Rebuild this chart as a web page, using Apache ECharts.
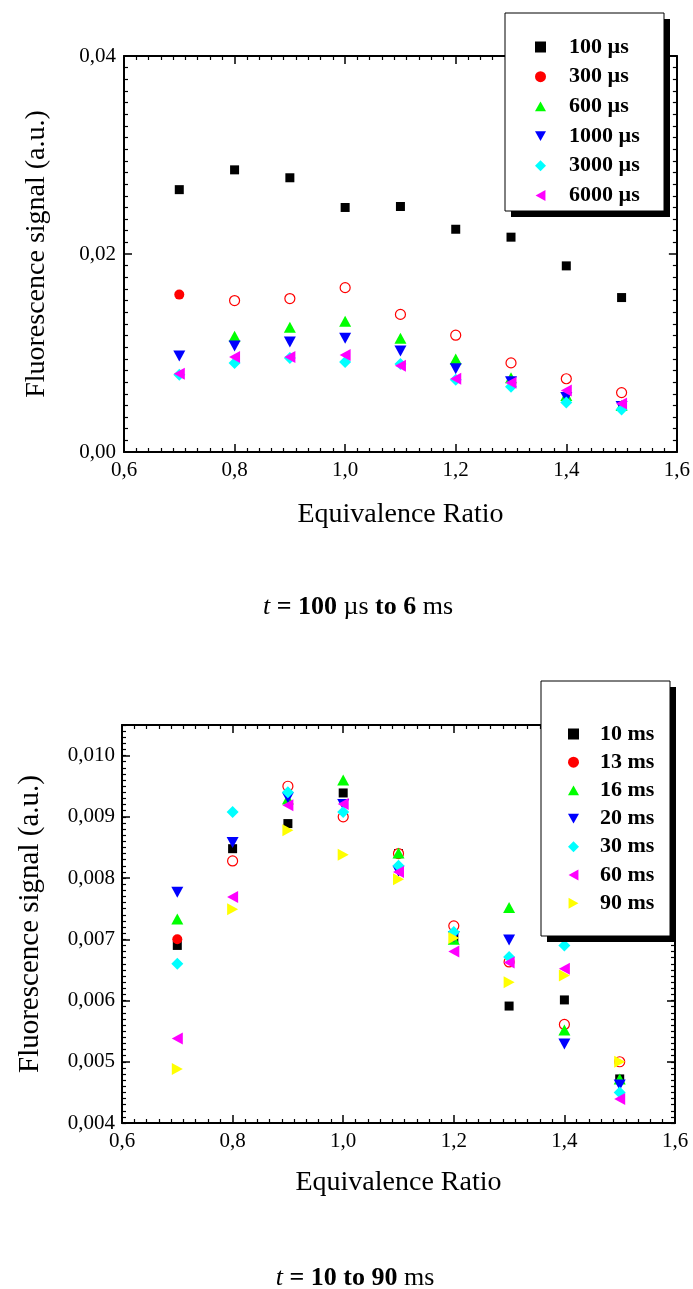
<!DOCTYPE html>
<html><head><meta charset="utf-8">
<script src="https://cdn.jsdelivr.net/npm/echarts@6/dist/echarts.min.js"></script>
<style>html,body{margin:0;padding:0;background:#fff}#c{width:693px;height:1289px}</style>
</head><body><div id="c"></div>
<script>
// ---------------- data ----------------
const EQ_RATIO = [0.7, 0.8, 0.9, 1.0, 1.1, 1.2, 1.3, 1.4, 1.5];
const X_TICKS = [0.6, 0.8, 1.0, 1.2, 1.4, 1.6];
const TOP_Y_TICKS = [0.00, 0.02, 0.04];
const BOT_Y_TICKS = [0.004, 0.005, 0.006, 0.007, 0.008, 0.009, 0.010];
const BOT_Y_MAX = 0.0105;

const TOP_NAMES = ['100 \u00b5s', '300 \u00b5s', '600 \u00b5s', '1000 \u00b5s', '3000 \u00b5s', '6000 \u00b5s'];
const top_100us  = [0.0265, 0.0285, 0.0277, 0.0247, 0.0248, 0.0225, 0.0217, 0.0188, 0.0156];
const top_300us  = [0.0159, 0.0153, 0.0155, 0.0166, 0.0139, 0.0118, 0.0090, 0.0074, 0.0060];
const top_600us  = [null,   0.0117, 0.0126, 0.0132, 0.0115, 0.0094, 0.0075, 0.0057, 0.0047];
const top_1000us = [0.0097, 0.0107, 0.0111, 0.0115, 0.0102, 0.0084, 0.0071, 0.0055, 0.0046];
const top_3000us = [0.0078, 0.0090, 0.0095, 0.0091, 0.0089, 0.0073, 0.0066, 0.0050, 0.0043];
const top_6000us = [0.0079, 0.0096, 0.0096, 0.0098, 0.0087, 0.0074, 0.0070, 0.0062, 0.0049];

const BOT_NAMES = ['10 ms', '13 ms', '16 ms', '20 ms', '30 ms', '60 ms', '90 ms'];
const bot_10ms = [0.00690, 0.00848, 0.00889, 0.00939, 0.00840, 0.00702, 0.00591, 0.00601, 0.00472];
const bot_13ms = [0.00700, 0.00828, 0.00950, 0.00900, 0.00840, 0.00722, 0.00663, 0.00561, 0.00500];
const bot_16ms = [0.00733, null,    0.00929, 0.00960, 0.00841, 0.00700, 0.00752, 0.00552, 0.00472];
const bot_20ms = [0.00777, 0.00858, 0.00931, 0.00920, 0.00811, 0.00704, 0.00699, 0.00529, 0.00462];
const bot_30ms = [0.00660, 0.00908, 0.00940, 0.00908, 0.00820, 0.00712, 0.00671, 0.00690, 0.00450];
const bot_60ms = [0.00538, 0.00769, 0.00919, 0.00921, 0.00810, 0.00680, 0.00662, 0.00652, 0.00439];
const bot_90ms = [0.00488, 0.00749, 0.00878, 0.00838, 0.00798, 0.00702, 0.00630, 0.00641, 0.00500];

// ---------------- styling ----------------
const FONT = '"Liberation Serif", "DejaVu Serif", serif';
const COLORS = ['#000000', '#ff0000', '#00ff00', '#0000ff', '#00ffff', '#ff00ff', '#ffff00'];
const SYM_UP = 'path://M5,0L10,9L0,9Z';
const SYM_DOWN = 'path://M0,0L10,0L5,9Z';
const SYM_LEFT = 'path://M0,5L9,0L9,10Z';
const SYM_RIGHT = 'path://M0,0L9,5L0,10Z';
const SYMBOLS = [
  {symbol: 'rect', size: 9},
  {symbol: 'circle', size: 10},
  {symbol: SYM_UP, size: [12, 11]},
  {symbol: SYM_DOWN, size: [12, 11]},
  {symbol: 'diamond', size: [12, 12]},
  {symbol: SYM_LEFT, size: [11, 12]},
  {symbol: SYM_RIGHT, size: [11, 12]}
];

const fmtComma = d => v => v.toFixed(d).replace('.', ',');

function axisBase(grid, pos, min, max, interval) {
  return {
    type: 'value', gridIndex: grid, position: pos, min: min, max: max, interval: interval,
    axisLine: {show: true, onZero: false, lineStyle: {color: '#000', width: 2}},
    axisTick: {show: true, inside: true, length: 8, lineStyle: {color: '#000', width: 1.5}},
    splitLine: {show: false}, minorSplitLine: {show: false},
    axisLabel: {show: false}
  };
}
function withLabels(ax, fmt, margin) {
  ax.axisLabel = {show: true, margin: margin, color: '#000', fontFamily: FONT, fontSize: 21, formatter: fmt};
  return ax;
}
function withMinor(ax, n) {
  ax.minorTick = {show: true, splitNumber: n, length: 4, lineStyle: {color: '#000', width: 1.2}};
  return ax;
}
function withName(ax, name, gap, size) {
  ax.name = name; ax.nameLocation = 'middle'; ax.nameGap = gap;
  ax.nameTextStyle = {color: '#000', fontFamily: FONT, fontSize: size};
  return ax;
}
function minorOverlay(grid, pos, min, max, interval) {
  const ax = axisBase(grid, pos, min, max, interval);
  ax.axisLine = {show: false, onZero: false};
  ax.axisTick = {show: true, inside: true, length: 4, lineStyle: {color: '#000', width: 1.2}};
  return ax;
}

const xMin = X_TICKS[0], xMax = X_TICKS[X_TICKS.length - 1], xInt = X_TICKS[1] - X_TICKS[0];
const tyMin = TOP_Y_TICKS[0], tyMax = TOP_Y_TICKS[TOP_Y_TICKS.length - 1], tyInt = TOP_Y_TICKS[1] - TOP_Y_TICKS[0];
const byMin = BOT_Y_TICKS[0], byInt = BOT_Y_TICKS[1] - BOT_Y_TICKS[0];

const xAxes = [
  withName(withLabels(withMinor(axisBase(0, 'bottom', xMin, xMax, xInt), 9), fmtComma(1), 8), 'Equivalence Ratio', 49, 28),
  withMinor(axisBase(0, 'top', xMin, xMax, xInt), 9),
  withName(withLabels(withMinor(axisBase(1, 'bottom', xMin, xMax, xInt), 9), fmtComma(1), 8), 'Equivalence Ratio', 46, 28),
  withMinor(axisBase(1, 'top', xMin, xMax, xInt), 9)
];
const botLeft = withName(withLabels(axisBase(1, 'left', byMin, BOT_Y_MAX, byInt), fmtComma(3), 7), 'Fluorescence signal (a.u.)', 77, 29);
botLeft.axisLabel.showMaxLabel = false;
const yAxes = [
  withName(withLabels(withMinor(axisBase(0, 'left', tyMin, tyMax, tyInt), 17), fmtComma(2), 8), 'Fluorescence signal (a.u.)', 73, 28),
  withMinor(axisBase(0, 'right', tyMin, tyMax, tyInt), 17),
  botLeft,
  axisBase(1, 'right', byMin, BOT_Y_MAX, byInt),
  minorOverlay(1, 'left', byMin, BOT_Y_MAX, byInt / 10),
  minorOverlay(1, 'right', byMin, BOT_Y_MAX, byInt / 10)
];

function makeSeries(name, values, idx, xi, yi) {
  const data = [];
  values.forEach((v, i) => {
    if (v === null) return;
    const item = {value: [EQ_RATIO[i], v]};
    // second series (red circles): only the first point is filled, rest open
    if (idx === 1 && i > 0) item.itemStyle = {color: '#ffffff', borderColor: COLORS[1], borderWidth: 1.2};
    data.push(item);
  });
  return {
    type: 'scatter', name: name, xAxisIndex: xi, yAxisIndex: yi,
    symbol: SYMBOLS[idx].symbol, symbolSize: SYMBOLS[idx].size,
    itemStyle: {color: COLORS[idx], opacity: 1},
    emphasis: {disabled: true}, animation: false, z: 3,
    data: data
  };
}
const topVals = [top_100us, top_300us, top_600us, top_1000us, top_3000us, top_6000us];
const botVals = [bot_10ms, bot_13ms, bot_16ms, bot_20ms, bot_30ms, bot_60ms, bot_90ms];
const series = [];
topVals.forEach((v, i) => series.push(makeSeries(TOP_NAMES[i], v, i, 0, 0)));
botVals.forEach((v, i) => series.push(makeSeries(BOT_NAMES[i], v, i, 2, 2)));

const legendText = {color: '#000', fontFamily: FONT, fontSize: 22, fontWeight: 'bold', lineHeight: 22};
const legends = [
  {data: TOP_NAMES, orient: 'vertical', left: 530, top: 31, itemWidth: 11, itemHeight: 11, itemGap: 7.7,
   textStyle: Object.assign({}, legendText, {padding: [0, 0, 0, 18]}), selectedMode: false, z: 60},
  {data: BOT_NAMES, orient: 'vertical', left: 563, top: 718, itemWidth: 11, itemHeight: 11, itemGap: 6.2,
   textStyle: Object.assign({}, legendText, {padding: [0, 0, 0, 16]}), selectedMode: false, z: 60}
];

function legendBox(x, y, w, h, off) {
  return [
    {type: 'rect', z: 50, shape: {x: x + off, y: y + off, width: w, height: h}, style: {fill: '#000'}},
    {type: 'rect', z: 51, shape: {x: x, y: y, width: w, height: h}, style: {fill: '#fff', stroke: '#000', lineWidth: 1}}
  ];
}
const captionRich = {
  i: {fontFamily: FONT, fontSize: 26, fontStyle: 'italic', color: '#000'},
  b: {fontFamily: FONT, fontSize: 26, fontWeight: 'bold', color: '#000'},
  n: {fontFamily: FONT, fontSize: 26, color: '#000'}
};
const graphics = [].concat(
  legendBox(505, 13, 159, 198, 6),
  legendBox(541, 681, 129, 255, 6),
  [
    {type: 'text', z: 50, x: 358, y: 607, style: {text: '{i|t }{b|= 100 }{n|\u00b5s }{b|to 6 }{n|ms}', rich: captionRich, align: 'center', verticalAlign: 'middle'}},
    {type: 'text', z: 50, x: 355, y: 1278, style: {text: '{i|t }{b|= 10 to 90 }{n|ms}', rich: captionRich, align: 'center', verticalAlign: 'middle'}}
  ]
);

const chart = echarts.init(document.getElementById('c'), null, {renderer: 'canvas'});
chart.setOption({
  animation: false,
  backgroundColor: '#fff',
  grid: [
    {left: 124, top: 56, width: 553, height: 396, containLabel: false},
    {left: 122, top: 725, width: 553, height: 398, containLabel: false}
  ],
  xAxis: xAxes,
  yAxis: yAxes,
  legend: legends,
  graphic: graphics,
  series: series
});
</script>
</body></html>
